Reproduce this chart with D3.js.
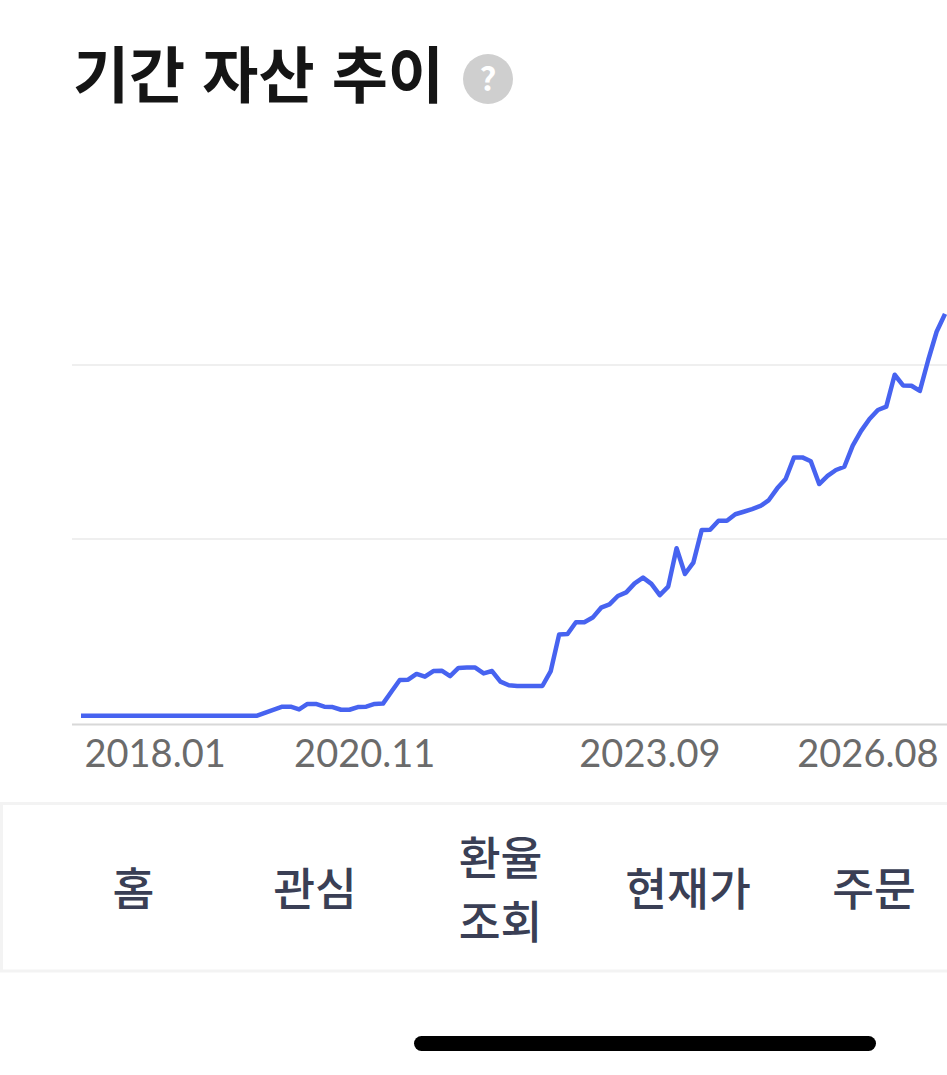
<!DOCTYPE html>
<html lang="ko">
<head>
<meta charset="utf-8">
<script src="https://cdn.jsdelivr.net/npm/d3@7"></script>
<style>
  html, body { margin: 0; padding: 0; background: #fff; overflow: hidden; }
  svg { display: block; }
  text { font-family: "Noto Sans CJK KR", sans-serif; }
</style>
</head>
<body>
<script>
const WIDTH = 947
const HEIGHT = 1075

const title = "기간 자산 추이"
const navLabels = [["홈"], ["관심"], ["환율", "조회"], ["현재가"], ["주문"]]
const navCenters = [133.5, 315, 500.5, 688, 874]

// months since 2018.01
const tickMonths = [0, 34, 68, 103]
const tickLabels = ["2018.01", "2020.11", "2023.09", "2026.08"]
const gridValues = [103.1, 199.7]

// one value per month, no scale is printed so the unit is arbitrary
const assets = [
	4.9, 4.9, 4.9, 4.9, 4.9, 4.9, 4.9, 4.9, 4.9, 4.9,
	4.9, 4.9, 4.9, 4.9, 4.9, 4.9, 4.9, 4.9, 4.9, 4.9,
	4.9, 4.9, 6.6, 8.2, 9.9, 9.9, 8.4, 11.4, 11.4, 9.9,
	9.7, 8.2, 8.2, 9.7, 9.9, 11.4, 11.6, 18.2, 24.7, 24.9,
	28.1, 26.6, 29.7, 29.9, 26.9, 31.4, 31.6, 31.6, 28.4, 29.7,
	23.8, 21.8, 21.4, 21.4, 21.4, 21.4, 29.7, 50, 50.3, 56.8,
	56.8, 59.4, 64.9, 66.7, 71.4, 73.4, 78.4, 81.6, 78.1, 71.9,
	76.6, 97.9, 83.6, 89.9, 108.1, 108.2, 113.2, 113.2, 116.8, 118.2,
	119.7, 121.4, 124.7, 131.2, 136.4, 148.4, 148.4, 146.2, 133.6, 138.1,
	141.4, 143.2, 154.9, 163.1, 169.7, 174.7, 176.6, 194.3, 188.4, 188.2,
	185.3, 202.5, 218.2, 228.1
]

var svg = d3.select("body").append("svg")
	.attr("width", WIDTH)
	.attr("height", HEIGHT)

var x = d3.scaleLinear()
	.domain([0, assets.length - 1])
	.range([81, 945])

var y = d3.scaleLinear()
	.domain([0, 230])
	.range([724.5, 310.5])

// header
svg.append("text")
	.attr("x", 73)
	.attr("y", 98)
	.attr("font-size", 61)
	.attr("font-weight", 700)
	.attr("fill", "#151515")
	.text(title)

svg.append("circle")
	.attr("cx", 488)
	.attr("cy", 79)
	.attr("r", 25)
	.attr("fill", "#cfcfcf")

svg.append("text")
	.attr("x", 488)
	.attr("y", 91)
	.attr("text-anchor", "middle")
	.attr("font-size", 33)
	.attr("font-weight", 700)
	.attr("fill", "#fff")
	.text("?")

// grid
svg.selectAll(".grid")
	.data(gridValues)
	.enter().append("line")
	.attr("class", "grid")
	.attr("x1", 72)
	.attr("x2", WIDTH)
	.attr("y1", d => y(d))
	.attr("y2", d => y(d))
	.attr("stroke", "#efefef")
	.attr("stroke-width", 2)

svg.append("line")
	.attr("x1", 72)
	.attr("x2", WIDTH)
	.attr("y1", y(0))
	.attr("y2", y(0))
	.attr("stroke", "#d8d8d8")
	.attr("stroke-width", 2)

// x axis, first and last labels are pulled inside the plot
var xAxis = d3.axisBottom(x)
	.tickValues(tickMonths)
	.tickSize(0)
	.tickFormat((d, i) => tickLabels[i])

var axisG = svg.append("g")
	.attr("transform", "translate(0," + y(0) + ")")
	.call(xAxis)

axisG.select(".domain").remove()

axisG.selectAll("text")
	.attr("y", 42.5)
	.attr("dy", 0)
	.attr("dx", (d, i) => [3, -2, -2, -7][i])
	.attr("text-anchor", (d, i) => i == 0 ? "start" : i == tickLabels.length - 1 ? "end" : "middle")
	.style("font-family", "Lato, sans-serif")
	.attr("font-size", 38)
	.attr("fill", "#6b6b6b")

// asset line
var line = d3.line()
	.x((d, i) => x(i))
	.y(d => y(d))

svg.append("path")
	.datum(assets)
	.attr("d", line)
	.attr("fill", "none")
	.attr("stroke", "#4763f0")
	.attr("stroke-width", 4.5)
	.attr("stroke-linejoin", "round")

// bottom nav
svg.append("rect")
	.attr("x", 1.5)
	.attr("y", 803.5)
	.attr("width", WIDTH + 10)
	.attr("height", 167.5)
	.attr("fill", "#fff")
	.attr("stroke", "#f3f3f3")
	.attr("stroke-width", 3)

var nav = svg.selectAll(".nav")
	.data(navLabels)
	.enter().append("text")
	.attr("class", "nav")
	.attr("text-anchor", "middle")
	.attr("font-size", 45.5)
	.attr("font-weight", 500)
	.attr("fill", "#3a3f55")

nav.selectAll("tspan")
	.data((d, i) => d.map(s => ({ s: s, i: i, n: d.length })))
	.enter().append("tspan")
	.attr("x", d => navCenters[d.i])
	.attr("y", (d, j) => d.n == 1 ? 906 : 875 + j * 64)
	.text(d => d.s)

// home indicator
svg.append("rect")
	.attr("x", 414)
	.attr("y", 1036)
	.attr("width", 462)
	.attr("height", 15)
	.attr("rx", 7.5)
	.attr("fill", "#000")
</script>
</body>
</html>
